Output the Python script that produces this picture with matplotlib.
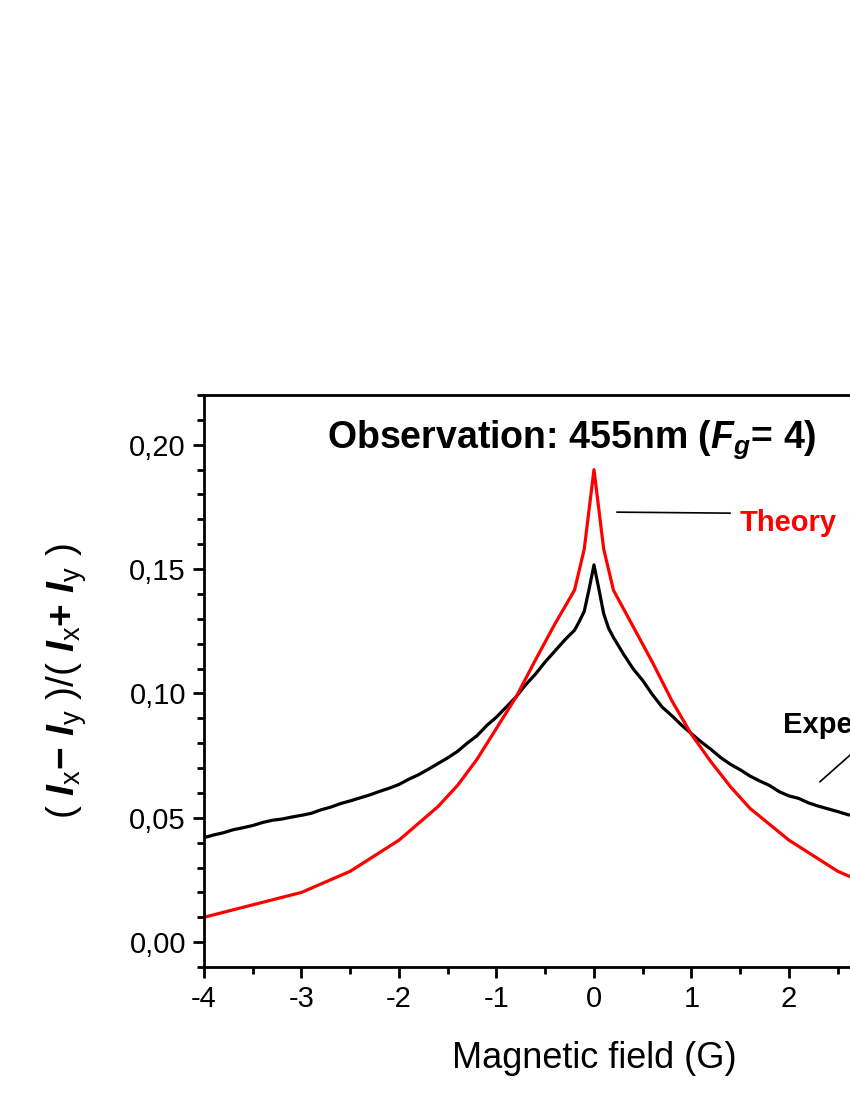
import matplotlib
matplotlib.use("Agg")
import matplotlib.pyplot as plt
from matplotlib.ticker import MultipleLocator, FuncFormatter

plt.rcParams['font.family'] = ['Liberation Sans', 'DejaVu Sans']
plt.rcParams['axes.unicode_minus'] = False
plt.rcParams['mathtext.fontset'] = 'custom'
plt.rcParams['mathtext.rm'] = 'Liberation Sans'
plt.rcParams['mathtext.it'] = 'Liberation Sans:italic'
plt.rcParams['mathtext.bf'] = 'Liberation Sans:bold'
plt.rcParams['mathtext.bfit'] = 'Liberation Sans:bold:italic'

# theory (red), piecewise linear
theory_b = [-4.0, -3.0, -2.5, -2.0, -1.6, -1.4, -1.2, -1.0, -0.8, -0.6, -0.4, -0.2, -0.1, 0.0,
            0.1, 0.2, 0.4, 0.6, 0.8, 1.0, 1.2, 1.4, 1.6, 2.0, 2.5, 3.0, 4.0]
theory_v = [0.010, 0.020, 0.0285, 0.041, 0.0545, 0.063, 0.0735, 0.086, 0.0985, 0.1135, 0.128, 0.1415, 0.158, 0.190,
            0.158, 0.1415, 0.127, 0.1125, 0.097, 0.0835, 0.0725, 0.0625, 0.0538, 0.041, 0.0285, 0.020, 0.010]

# experiment (black)
exp_b = [-4.0, -3.9, -3.8, -3.7, -3.6, -3.5, -3.4, -3.3, -3.2, -3.1, -3.0, -2.9, -2.8, -2.7, -2.6,
         -2.5, -2.4, -2.3, -2.2, -2.1, -2.0, -1.9, -1.8, -1.7, -1.6, -1.5, -1.4, -1.3, -1.2, -1.1,
         -1.0, -0.9, -0.8, -0.7, -0.6, -0.5, -0.4, -0.3, -0.2, -0.15, -0.1, -0.05, 0.0, 0.05, 0.1,
         0.15, 0.2, 0.3, 0.4, 0.5, 0.6, 0.7, 0.8, 0.9, 1.0, 1.1, 1.2, 1.3, 1.4, 1.5, 1.6, 1.7, 1.8,
         1.9, 2.0, 2.1, 2.2, 2.3, 2.4, 2.5, 2.6, 2.7, 2.8, 2.9, 3.0, 3.2, 3.4, 3.6, 3.8, 4.0]
exp_v = [0.0420, 0.0431, 0.0440, 0.0452, 0.0460, 0.0469, 0.0481, 0.0490, 0.0495, 0.0503, 0.0510, 0.0518,
         0.0532, 0.0543, 0.0557, 0.0568, 0.0580, 0.0592, 0.0606, 0.0619, 0.0634, 0.0655, 0.0673, 0.0695,
         0.0718, 0.0741, 0.0767, 0.0800, 0.0830, 0.0871, 0.0905, 0.0945, 0.0986, 0.1035, 0.1078, 0.1127,
         0.1171, 0.1215, 0.1254, 0.1290, 0.1330, 0.1420, 0.1517, 0.1420, 0.1320, 0.1262, 0.1225, 0.1160,
         0.1100, 0.1052, 0.0995, 0.0945, 0.0910, 0.0872, 0.0838, 0.0805, 0.0775, 0.0742, 0.0715, 0.0693,
         0.0668, 0.0648, 0.0630, 0.0605, 0.0588, 0.0578, 0.0560, 0.0547, 0.0536, 0.0525, 0.0513, 0.0505,
         0.0497, 0.0489, 0.0480, 0.0462, 0.0448, 0.0433, 0.0420, 0.0408]

fig = plt.figure(figsize=(8.5, 11), dpi=100)
# axes runs past the right edge of the page, like the cropped original
ax = fig.add_axes([0.24, 0.1209, 0.9176, 0.52])

ax.plot(exp_b, exp_v, color='black', lw=2.3)
ax.plot(theory_b, theory_v, color='#ff0000', lw=2.3)

ax.set_xlim(-4, 4)
ax.set_ylim(-0.01, 0.22)
ax.xaxis.set_major_locator(MultipleLocator(1))
ax.xaxis.set_minor_locator(MultipleLocator(0.5))
ax.yaxis.set_major_locator(MultipleLocator(0.05))
ax.yaxis.set_minor_locator(MultipleLocator(0.01))
ax.xaxis.set_major_formatter(FuncFormatter(lambda v, p: f'{round(v):d}'))
ax.yaxis.set_major_formatter(FuncFormatter(lambda v, p: f'{v:.2f}'.replace('.', ',')))

for s in ax.spines.values():
    s.set_linewidth(2.0)
ax.tick_params(which='both', direction='out', width=2.0, labelsize=21, top=False, right=False)
ax.tick_params(which='major', length=8, pad=5)
ax.tick_params(which='minor', length=5)

ax.set_xlabel('Magnetic field (G)', fontsize=26)
ax.xaxis.set_label_coords(0.5, -0.13)
ax.set_ylabel(r'$(\ \mathbfit{I}_{\mathrm{x}}\mathbf{-}\ \mathbfit{I}_{\mathrm{y}}\ )/'
              r'(\ \mathbfit{I}_{\mathrm{x}}\mathbf{+}\ \mathbfit{I}_{\mathrm{y}}\ )$',
              fontsize=28)
ax.yaxis.set_label_coords(-0.148, 0.5)

ax.text(-2.738, 0.199, r'Observation: 455nm ($\mathbfit{F}_{\mathbfit{g}}$= 4)', fontsize=27,
        fontweight='bold', ha='left', va='baseline')

ax.plot([0.237, 1.395], [0.1729, 0.1725], color='black', lw=1.2)
ax.text(1.497, 0.1654, 'Theory', color='#ff0000', fontsize=21, fontweight='bold', va='baseline')

ax.plot([2.318, 2.9], [0.0645, 0.0847], color='black', lw=1.2)
ax.text(1.938, 0.0841, 'Experiment', color='black', fontsize=21, fontweight='bold', va='baseline')

fig.savefig('out.png', dpi=100)
